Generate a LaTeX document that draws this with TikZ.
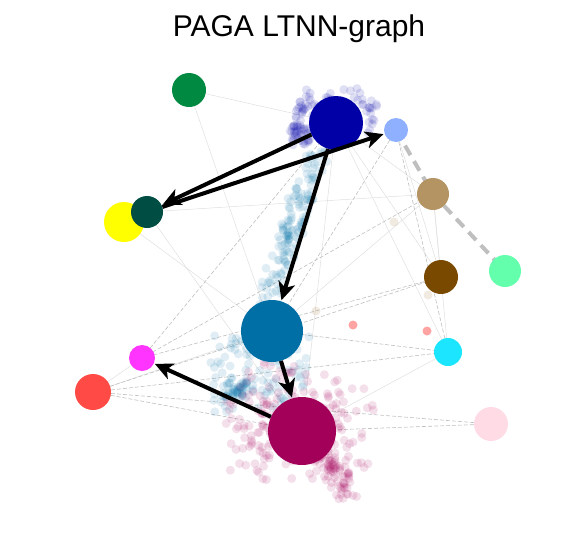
\documentclass[tikz,border=0pt]{standalone}
\usepackage{fontspec}
\setmainfont{Liberation Sans}
\usetikzlibrary{arrows.meta}

\definecolor{cgreen}{RGB}{0,137,65}
\definecolor{cdblue}{RGB}{0,0,166}
\definecolor{clblue}{RGB}{143,176,255}
\definecolor{ctan}{RGB}{181,148,100}
\definecolor{cdteal}{RGB}{0,77,67}
\definecolor{cyellow}{RGB}{255,255,0}
\definecolor{cmint}{RGB}{99,255,172}
\definecolor{cbrown}{RGB}{122,73,0}
\definecolor{ctblue}{RGB}{0,111,166}
\definecolor{ccyan}{RGB}{28,230,255}
\definecolor{cmagenta}{RGB}{255,52,255}
\definecolor{cred}{RGB}{255,74,70}
\definecolor{cmaroon}{RGB}{163,0,89}
\definecolor{cpink}{RGB}{255,219,229}

\tikzset{
  group/.style={circle,inner sep=0pt,fill=#1},
  thin edge/.style={gray!25,line width=0.5pt},
  dash edge/.style={gray!50,line width=0.6pt,dash pattern=on 4pt off 2pt},
  paga arrow/.style={line width=4pt,-{Stealth[length=18pt,width=17pt,inset=5pt]},shorten >=1pt},
  cell/.style={fill=#1,fill opacity=0.12}
}

\begin{document}
\begin{tikzpicture}[x=1pt,y=-1pt]
\useasboundingbox (0,0) rectangle (569,554);
\node (title) at (299,29) {\fontsize{30}{34}\selectfont PAGA LTNN-graph};

% groups
\coordinate (green) at (189,90);
\coordinate (dblue) at (336,123);
\coordinate (lblue) at (396,130);
\coordinate (tan) at (433,194);
\coordinate (dteal) at (147,212);
\coordinate (yellow) at (124,222);
\coordinate (mint) at (505,271);
\coordinate (brown) at (441,277);
\coordinate (tblue) at (272,331);
\coordinate (cyan) at (448,352);
\coordinate (magenta) at (142,358);
\coordinate (red) at (93,392);
\coordinate (maroon) at (302,431);
\coordinate (pink) at (491,424);

% faint edges
\foreach \a/\b in {green/dblue,green/tblue,dblue/tan,dblue/brown,dblue/cyan,
  tan/dteal,tan/brown,tan/tblue,dteal/maroon,yellow/tblue,red/magenta,
  cyan/maroon,tan/cyan,lblue/brown,dblue/maroon,red/tblue}
  \draw[thin edge] (\a) -- (\b);
\foreach \a/\b in {lblue/cyan,red/brown,red/cyan,red/pink,magenta/brown,
  red/maroon,maroon/pink,tblue/cyan,dteal/dblue,dblue/magenta,lblue/tblue,magenta/tan}
  \draw[dash edge] (\a) -- (\b);
\draw[gray!50,line width=4pt,dash pattern=on 11pt off 7pt] (lblue) -- (tan) -- (mint);

% cells
\pgfmathsetseed{7}
\foreach \i in {1,...,110}
  \fill[cell=cdblue] ({335+42*rand},{110+16*rand+12*rand}) circle (4.5);
\foreach \i in {1,...,40}
  \fill[cell=cdblue] ({300+10*rand},{135+10*rand}) circle (4.5);
\foreach \i in {1,...,140}{
  \pgfmathsetmacro\t{rnd}
  \fill[cell=ctblue] ({318-50*\t+12*rand},{150+150*\t+8*rand}) circle (4.5);}
\foreach \i in {1,...,100}
  \fill[cell=ctblue] ({260+50*rand},{375+40*rand}) circle (4.5);
\foreach \i in {1,...,40}
  \fill[cell=ctblue] ({235+12*rand},{388+10*rand}) circle (4.5);
\foreach \i in {1,...,200}
  \fill[cell=cmaroon] ({300+60*rand+25*rand},{425+45*rand+25*rand}) circle (4.5);
\foreach \i in {1,...,80}{
  \pgfmathsetmacro\t{rnd}
  \fill[cell=cmaroon] ({320+28*\t+10*rand},{450+45*\t+9*rand}) circle (4.5);}
\fill[cred,fill opacity=0.5] (353,325) circle (4.5) (427,331) circle (4.5);
\fill[ctan,fill opacity=0.2] (316,311) circle (4.5) (428,295) circle (4.5) (394,222) circle (4.5);

% group nodes
\node[group=cgreen,minimum size=34pt] (n-green) at (green) {};
\node[group=cdblue,minimum size=54pt] (n-dblue) at (dblue) {};
\node[group=clblue,minimum size=24pt] (n-lblue) at (lblue) {};
\node[group=ctan,minimum size=32pt] (n-tan) at (tan) {};
\node[group=cyellow,minimum size=40pt] (n-yellow) at (yellow) {};
\node[group=cdteal,minimum size=32pt] (n-dteal) at (dteal) {};
\node[group=cmint,minimum size=32pt] (n-mint) at (mint) {};
\node[group=cbrown,minimum size=34pt] (n-brown) at (brown) {};
\node[group=ctblue,minimum size=62pt] (n-tblue) at (tblue) {};
\node[group=ccyan,minimum size=28pt] (n-cyan) at (cyan) {};
\node[group=cmagenta,minimum size=26pt] (n-magenta) at (magenta) {};
\node[group=cred,minimum size=36pt] (n-red) at (red) {};
\node[group=cmaroon,minimum size=68pt] (n-maroon) at (maroon) {};
\node[group=cpink,minimum size=34pt] (n-pink) at (pink) {};

% directed edges
\draw[paga arrow] (n-dblue) -- (n-dteal);
\draw[paga arrow] (n-dteal) -- (n-lblue);
\draw[paga arrow] (n-dblue) -- (n-tblue);
\draw[paga arrow] (n-tblue) -- (n-maroon);
\draw[paga arrow] (n-maroon) -- (n-magenta);
\end{tikzpicture}
\end{document}
